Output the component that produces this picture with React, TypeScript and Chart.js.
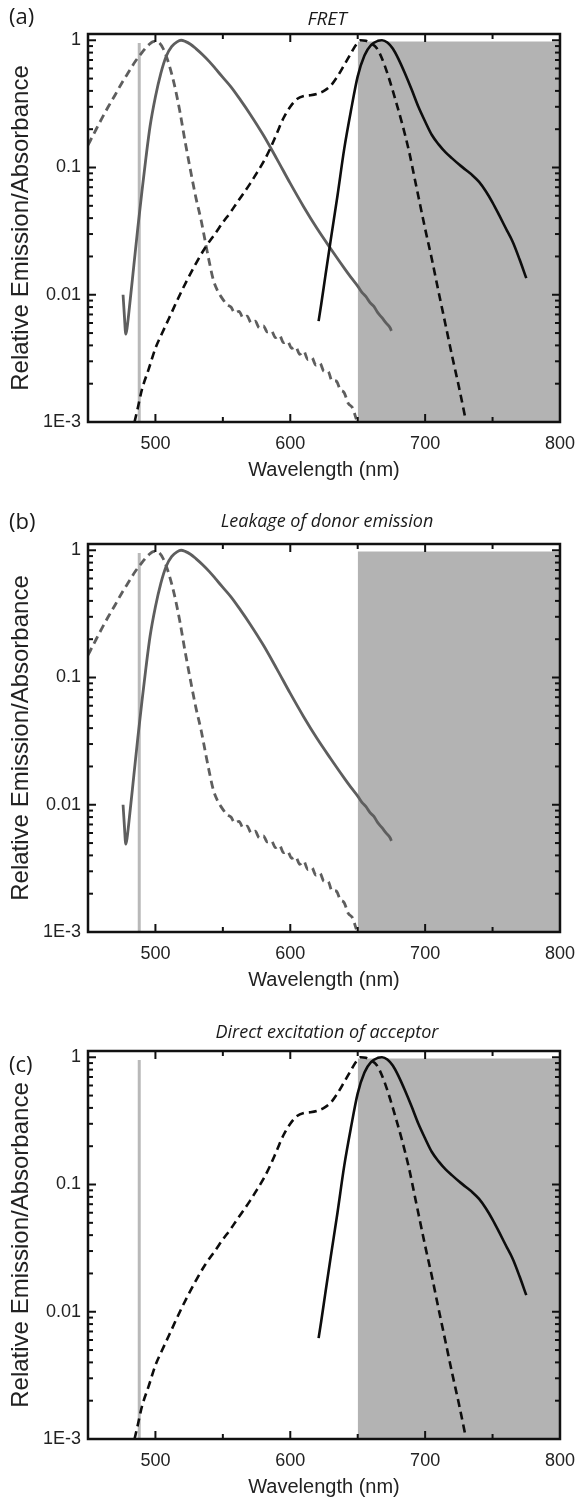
import { useEffect, useRef } from "react";
import { Chart, registerables } from "chart.js";

Chart.register(...registerables);

// ---------- data ----------
const DONOR_ABS_NM = [450, 455, 460, 465, 470, 475, 480, 485, 490, 495, 499, 502, 506, 510, 514, 518, 522, 526, 530, 534, 537, 540, 543, 546, 550, 553, 556, 559, 562, 565, 568, 571, 574, 577, 580, 583, 586, 589, 592, 595, 598, 601, 604, 607, 610, 613, 616, 619, 622, 625, 628, 631, 634, 637, 640, 643, 646, 649];
const DONOR_ABS = [0.15, 0.19, 0.24, 0.3, 0.37, 0.46, 0.56, 0.68, 0.8, 0.92, 0.98, 0.97, 0.85, 0.65, 0.45, 0.28, 0.16, 0.095, 0.058, 0.038, 0.026, 0.018, 0.013, 0.0108, 0.0092, 0.0084, 0.008, 0.0072, 0.0074, 0.0066, 0.0068, 0.006, 0.0062, 0.0055, 0.0057, 0.0051, 0.0052, 0.0046, 0.0048, 0.0042, 0.0043, 0.0038, 0.0039, 0.0034, 0.0036, 0.0031, 0.0032, 0.0028, 0.0029, 0.0025, 0.0025, 0.0021, 0.0021, 0.0018, 0.0017, 0.0014, 0.0013, 0.00105];

const DONOR_EM_NM = [476, 477, 478, 479, 481, 484, 487, 490, 493, 496, 500, 504, 508, 512, 516, 519, 522, 526, 530, 535, 540, 545, 550, 556, 563, 570, 580, 590, 600, 610, 620, 630, 640, 645, 650, 653, 656, 659, 662, 665, 668, 671, 674, 675];
const DONOR_EM = [0.01, 0.0068, 0.0049, 0.0055, 0.0085, 0.017, 0.034, 0.065, 0.12, 0.21, 0.36, 0.55, 0.75, 0.89, 0.97, 1.0, 0.98, 0.93, 0.86, 0.77, 0.68, 0.59, 0.51, 0.43, 0.34, 0.265, 0.18, 0.117, 0.075, 0.049, 0.033, 0.023, 0.0162, 0.0137, 0.0117, 0.0105, 0.0097, 0.0087, 0.0081, 0.0072, 0.0066, 0.006, 0.0055, 0.0052];

const ACC_ABS_NM = [484.5, 487, 490, 495, 500, 505, 510, 515, 520, 525, 530, 537, 545, 550, 556, 560, 565, 570, 575, 580, 585, 590, 595, 600, 605, 610, 615, 620, 625, 630, 635, 640, 645, 649, 652, 656, 660, 664, 668, 673, 678, 683, 688, 693, 700, 705, 710, 715, 720, 725, 730];
const ACC_ABS = [0.001, 0.0013, 0.0018, 0.0026, 0.0038, 0.005, 0.0065, 0.0085, 0.011, 0.014, 0.0176, 0.0235, 0.031, 0.037, 0.045, 0.052, 0.062, 0.074, 0.09, 0.11, 0.14, 0.185, 0.245, 0.3, 0.345, 0.365, 0.37, 0.38, 0.4, 0.44, 0.52, 0.64, 0.79, 0.93, 1.0, 0.99, 0.94, 0.87, 0.72, 0.51, 0.34, 0.22, 0.135, 0.075, 0.033, 0.019, 0.0105, 0.0059, 0.0033, 0.0019, 0.00105];

const ACC_EM_NM = [621, 623, 626, 630, 635, 640, 645, 650, 655, 660, 665, 668, 672, 676, 680, 685, 690, 695, 700, 705, 710, 715, 720, 725, 730, 735, 740, 745, 750, 755, 760, 765, 770, 775];
const ACC_EM = [0.0062, 0.0085, 0.014, 0.027, 0.06, 0.14, 0.28, 0.52, 0.76, 0.92, 0.99, 1.0, 0.96, 0.86, 0.72, 0.55, 0.41, 0.3, 0.23, 0.18, 0.152, 0.132, 0.118, 0.106, 0.096, 0.087, 0.077, 0.065, 0.053, 0.042, 0.033, 0.026, 0.019, 0.0135];

const EXCITATION_NM = [488, 488];
const EXCITATION = [0.001, 0.95];

const DETECTION_NM = [650, 800];
const DETECTION = [0.98, 0.98];

const X_MIN = 450;
const X_MAX = 800;
const Y_MIN = 0.001;
const Y_MAX = 1.12;
const X_MAJOR = [500, 600, 700, 800];
const X_MINOR = [550, 650, 750];
const Y_DECADES = [0.001, 0.01, 0.1, 1];
const Y_LABELS = ["1E-3", "0.01", "0.1", "1"];
const Y_MINOR_MULT = [2, 3, 4, 5, 6, 7, 8, 9];

const X_TITLE = "Wavelength (nm)";
const Y_TITLE = "Relative Emission/Absorbance";

// ---------- styles ----------
const GRAY = "#5e5e5e";
const BLACK = "#0d0d0d";
const SHADE = "#b3b3b3";
const EXC = "#b9b9b9";
const CANVAS_W = 586;
const CANVAS_H = 490;
const SANS = "'Liberation Sans', Arial, sans-serif";

const pts = (xs: number[], ys: number[]) => xs.map((x, i) => ({ x, y: ys[i] }));

const framePlugin = {
  id: "frame",
  afterDraw(chart: any) {
    const { ctx, chartArea: a, scales } = chart;
    const xs = scales.x;
    const ys = scales.y;
    const MAJ = 8;
    const MIN = 5;
    ctx.save();
    ctx.strokeStyle = "#111";
    ctx.lineWidth = 2;
    const seg = (x1: number, y1: number, x2: number, y2: number) => {
      ctx.beginPath();
      ctx.moveTo(x1, y1);
      ctx.lineTo(x2, y2);
      ctx.stroke();
    };
    X_MAJOR.forEach((v) => {
      const p = xs.getPixelForValue(v);
      seg(p, a.bottom, p, a.bottom - MAJ);
      seg(p, a.top, p, a.top + MAJ);
    });
    X_MINOR.forEach((v) => {
      const p = xs.getPixelForValue(v);
      seg(p, a.bottom, p, a.bottom - MIN);
      seg(p, a.top, p, a.top + MIN);
    });
    Y_DECADES.forEach((d) => {
      const p = ys.getPixelForValue(d);
      seg(a.left, p, a.left + MAJ, p);
      seg(a.right, p, a.right - MAJ, p);
      if (d < 1) {
        Y_MINOR_MULT.forEach((m) => {
          const q = ys.getPixelForValue(d * m);
          seg(a.left, q, a.left + MIN, q);
          seg(a.right, q, a.right - MIN, q);
        });
      }
    });
    ctx.lineWidth = 2.5;
    ctx.strokeRect(a.left, a.top, a.right - a.left, a.bottom - a.top);
    ctx.restore();
  },
};

type Which = { donor: boolean; acceptor: boolean };

function Panel({ top, which }: { top: number; which: Which }) {
  const ref = useRef<HTMLCanvasElement | null>(null);
  useEffect(() => {
    if (!ref.current) return;
    const datasets: any[] = [
      {
        data: pts(DETECTION_NM, DETECTION),
        fill: "start",
        backgroundColor: SHADE,
        borderWidth: 0,
        pointRadius: 0,
        tension: 0,
        order: 10,
      },
      {
        data: pts(EXCITATION_NM, EXCITATION),
        borderColor: EXC,
        borderWidth: 3,
        pointRadius: 0,
        tension: 0,
        order: 9,
      },
    ];
    if (which.donor) {
      datasets.push(
        {
          data: pts(DONOR_ABS_NM, DONOR_ABS),
          borderColor: GRAY,
          borderWidth: 2.8,
          borderDash: [8, 5],
          pointRadius: 0,
          cubicInterpolationMode: "monotone",
          order: 4,
        },
        {
          data: pts(DONOR_EM_NM, DONOR_EM),
          borderColor: GRAY,
          borderWidth: 2.8,
          pointRadius: 0,
          cubicInterpolationMode: "monotone",
          order: 3,
        }
      );
    }
    if (which.acceptor) {
      datasets.push(
        {
          data: pts(ACC_ABS_NM, ACC_ABS),
          borderColor: BLACK,
          borderWidth: 2.6,
          borderDash: [8, 5],
          pointRadius: 0,
          cubicInterpolationMode: "monotone",
          order: 2,
        },
        {
          data: pts(ACC_EM_NM, ACC_EM),
          borderColor: BLACK,
          borderWidth: 2.6,
          pointRadius: 0,
          cubicInterpolationMode: "monotone",
          order: 1,
        }
      );
    }
    const chart = new Chart(ref.current, {
      type: "line",
      data: { datasets },
      plugins: [framePlugin],
      options: {
        animation: false,
        responsive: false,
        devicePixelRatio: 1,
        events: [],
        layout: { padding: { top: 34, right: 20, left: 0, bottom: 0 } },
        plugins: { legend: { display: false }, tooltip: { enabled: false } },
        scales: {
          x: {
            type: "linear",
            min: X_MIN,
            max: X_MAX,
            grid: { display: false, drawTicks: false },
            border: { display: false },
            afterFit: (s: any) => {
              s.height = CANVAS_H - 34 - 388;
            },
            afterBuildTicks: (s: any) => {
              s.ticks = X_MAJOR.map((v) => ({ value: v }));
            },
            ticks: {
              autoSkip: false,
              maxRotation: 0,
              padding: 11,
              color: "#222",
              font: { family: SANS, size: 18 },
            },
            title: {
              display: true,
              text: X_TITLE,
              color: "#222",
              padding: { top: 0, bottom: 8 },
              font: { family: SANS, size: 20 },
            },
          },
          y: {
            type: "logarithmic",
            min: Y_MIN,
            max: Y_MAX,
            grid: { display: false, drawTicks: false },
            border: { display: false },
            afterFit: (s: any) => {
              s.width = 88;
            },
            afterBuildTicks: (s: any) => {
              s.ticks = Y_DECADES.map((v) => ({ value: v, major: true }));
            },
            ticks: {
              autoSkip: false,
              padding: 7,
              color: "#222",
              font: { family: SANS, size: 18 },
              callback: (_v: any, i: number) => Y_LABELS[i],
            },
            title: {
              display: true,
              text: Y_TITLE,
              color: "#222",
              padding: { top: 7, bottom: 0 },
              font: { family: SANS, size: 24 },
            },
          },
        },
      } as any,
    });
    return () => chart.destroy();
  }, []);
  return (
    <canvas
      ref={ref}
      width={CANVAS_W}
      height={CANVAS_H}
      style={{ position: "absolute", left: 0, top, width: CANVAS_W, height: CANVAS_H }}
    />
  );
}

const textBase: any = {
  position: "absolute",
  whiteSpace: "nowrap",
  color: "#1a1a1a",
  lineHeight: "28px",
  height: 28,
};

function Label({ text, top }: { text: string; top: number }) {
  return (
    <div style={{ ...textBase, left: 9, top: top - 14, fontFamily: "'Open Sans', 'Noto Sans', sans-serif", fontSize: 22 }}>
      {text}
    </div>
  );
}

function Title({ text, top, size }: { text: string; top: number; size: number }) {
  return (
    <div
      style={{
        ...textBase,
        left: 88,
        width: 478,
        textAlign: "center",
        top: top - 14,
        fontFamily: "'Open Sans', 'Noto Sans', sans-serif",
        fontStyle: "italic",
        fontSize: size,
      }}
    >
      {text}
    </div>
  );
}

export default function App() {
  return (
    <div
      style={{
        position: "absolute",
        left: 0,
        top: 0,
        width: 586,
        height: 1497,
        overflow: "hidden",
        background: "#fff",
      }}
    >
      <Panel top={0} which={{ donor: true, acceptor: true }} />
      <Panel top={510} which={{ donor: true, acceptor: false }} />
      <Panel top={1017} which={{ donor: false, acceptor: true }} />
      <Label text="(a)" top={15} />
      <Title text="FRET" top={18} size={19} />
      <Label text="(b)" top={520} />
      <Title text="Leakage of donor emission" top={520} size={18} />
      <Label text="(c)" top={1063} />
      <Title text="Direct excitation of acceptor" top={1031} size={18} />
    </div>
  );
}
